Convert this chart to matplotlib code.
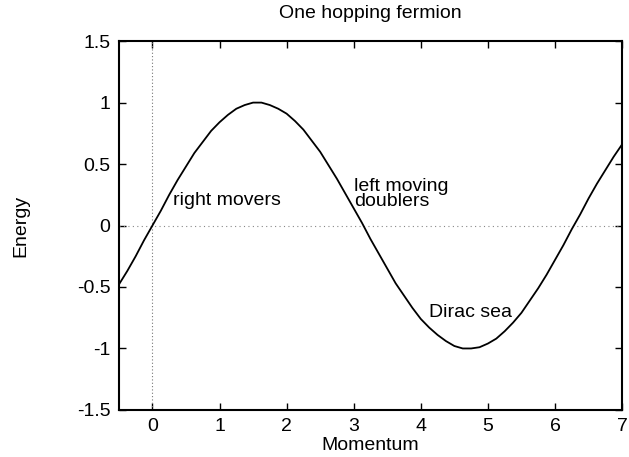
import matplotlib
matplotlib.use('Agg')
import matplotlib.pyplot as plt

plt.rcParams['font.family'] = ['Liberation Sans', 'DejaVu Sans']

# Energy vs momentum
momentum = [-0.5, -0.375, -0.25, -0.125, 0.0, 0.125, 0.25, 0.375, 0.5, 0.625,
            0.75, 0.875, 1.0, 1.125, 1.25, 1.375, 1.5, 1.625, 1.75, 1.875,
            2.0, 2.125, 2.25, 2.375, 2.5, 2.625, 2.75, 2.875, 3.0, 3.125,
            3.25, 3.375, 3.5, 3.625, 3.75, 3.875, 4.0, 4.125, 4.25, 4.375,
            4.5, 4.625, 4.75, 4.875, 5.0, 5.125, 5.25, 5.375, 5.5, 5.625,
            5.75, 5.875, 6.0, 6.125, 6.25, 6.375, 6.5, 6.625, 6.75, 6.875, 7.0]
energy = [-0.48, -0.37, -0.25, -0.12, 0.0, 0.12, 0.25, 0.37, 0.48, 0.59,
          0.68, 0.77, 0.84, 0.9, 0.95, 0.98, 1.0, 1.0, 0.98, 0.95,
          0.91, 0.85, 0.78, 0.69, 0.6, 0.49, 0.38, 0.26, 0.14, 0.02,
          -0.11, -0.23, -0.35, -0.47, -0.57, -0.67, -0.76, -0.83, -0.89, -0.94,
          -0.98, -1.0, -1.0, -0.99, -0.96, -0.92, -0.86, -0.79, -0.71, -0.61,
          -0.51, -0.4, -0.28, -0.16, -0.03, 0.09, 0.22, 0.34, 0.45, 0.56, 0.66]

x_ticks = [0, 1, 2, 3, 4, 5, 6, 7]
y_ticks = [-1.5, -1, -0.5, 0, 0.5, 1, 1.5]
y_tick_labels = ['-1.5', '-1', '-0.5', '0', '0.5', '1', '1.5']

annotations = [
    ('right movers', 0.3, 0.2),
    ('left moving\ndoublers', 3.0, 0.26),
    ('Dirac sea', 4.12, -0.71),
]

fig = plt.figure(figsize=(6.29, 4.57), dpi=100)
ax = fig.add_axes([0.189, 0.103, 0.800, 0.807])

ax.axhline(0, color='#888888', lw=0.8, ls=(0, (1, 3)))
ax.axvline(0, color='#777777', lw=0.8, ls=(0, (1, 2)))
ax.plot(momentum, energy, color='black', lw=1.3)

ax.set_xlim(-0.5, 7)
ax.set_ylim(-1.5, 1.5)
ax.set_xticks(x_ticks)
ax.set_yticks(y_ticks)
ax.set_yticklabels(y_tick_labels)
ax.tick_params(direction='in', top=True, right=True, length=5, width=1,
               labelsize=14, pad=6)
for s in ax.spines.values():
    s.set_linewidth(1.5)

for text, x, y in annotations:
    ax.text(x, y, text, fontsize=14, va='center', ha='left', linespacing=0.85)

ax.set_title('One hopping fermion', fontsize=14, pad=17)
ax.set_xlabel('Momentum', fontsize=14, labelpad=1)
ax.set_ylabel('Energy', fontsize=14, labelpad=34)

fig.savefig('out.png', dpi=100)
